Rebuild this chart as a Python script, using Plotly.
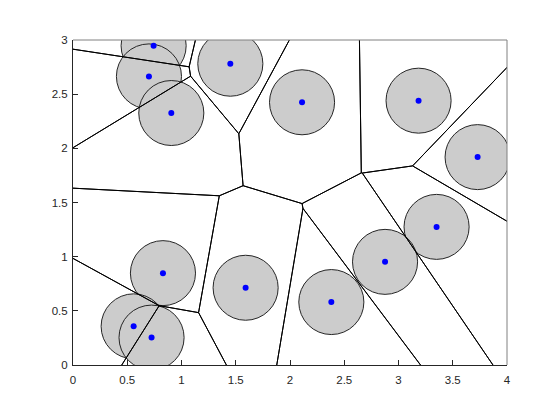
import numpy as np
import plotly.graph_objects as go

# Site coordinates
xs = [0.743, 0.700, 0.906, 1.450, 2.111, 3.185, 3.729, 3.351, 2.876, 2.381, 1.591, 0.829, 0.559, 0.724]
ys = [2.947, 2.664, 2.326, 2.781, 2.425, 2.440, 1.919, 1.275, 0.952, 0.581, 0.713, 0.848, 0.357, 0.253]
radius = 0.3
x_ticks = [0, 0.5, 1, 1.5, 2, 2.5, 3, 3.5, 4]
y_ticks = [0, 0.5, 1, 1.5, 2, 2.5, 3]

pts = np.column_stack([xs, ys])
BIG = 50.0


def clip(poly, a, b):
    # keep region where a.x <= b
    out = []
    n = len(poly)
    for k in range(n):
        p = poly[k]
        q = poly[(k + 1) % n]
        fp = np.dot(a, p) - b
        fq = np.dot(a, q) - b
        if fp <= 0:
            out.append(p)
        if (fp < 0 < fq) or (fq < 0 < fp):
            t = fp / (fp - fq)
            out.append(p + t * (q - p))
    return out


ex, ey = [], []
for i, p in enumerate(pts):
    poly = [np.array(v, float) for v in [(-BIG, -BIG), (BIG, -BIG), (BIG, BIG), (-BIG, BIG)]]
    for j, q in enumerate(pts):
        if i == j:
            continue
        a = q - p
        m = (p + q) / 2
        poly = clip(poly, a, np.dot(a, m))
    n = len(poly)
    for k in range(n):
        u = poly[k]
        v = poly[(k + 1) % n]
        # skip edges on the outer bounding box
        if (abs(u[0]) > BIG - 1e-6 and abs(v[0]) > BIG - 1e-6 and abs(u[0] - v[0]) < 1e-6) or \
           (abs(u[1]) > BIG - 1e-6 and abs(v[1]) > BIG - 1e-6 and abs(u[1] - v[1]) < 1e-6):
            continue
        ex += [u[0], v[0], None]
        ey += [u[1], v[1], None]

fig = go.Figure()
fig.add_trace(go.Scatter(x=ex, y=ey, mode="lines",
                         line=dict(color="black", width=1), hoverinfo="skip",
                         showlegend=False))
fig.add_trace(go.Scatter(x=xs, y=ys, mode="markers",
                         marker=dict(color="#0000ff", size=6), showlegend=False))

for x, y in zip(xs, ys):
    fig.add_shape(type="circle", xref="x", yref="y",
                  x0=x - radius, x1=x + radius, y0=y - radius, y1=y + radius,
                  fillcolor="#cccccc", line=dict(color="#262626", width=1),
                  layer="below")

# top and right box edges
fig.add_shape(type="line", xref="paper", yref="paper", x0=0, x1=1, y0=1, y1=1,
              line=dict(color="#808080", width=1))
fig.add_shape(type="line", xref="paper", yref="paper", x0=1, x1=1, y0=0, y1=1,
              line=dict(color="#808080", width=1))

axis_common = dict(showgrid=False, zeroline=False, showline=True, linecolor="#262626",
                   linewidth=1, ticks="inside", ticklen=5, tickcolor="#262626",
                   tickfont=dict(family="Liberation Sans, Arial", size=11.5, color="#262626"))
fig.update_xaxes(range=[0, 4], tickvals=x_ticks, ticktext=[f"{v:g}" for v in x_ticks],
                 ticklabelstandoff=4, **axis_common)
fig.update_yaxes(range=[0, 3], tickvals=y_ticks, ticktext=[f"{v:g}" for v in y_ticks],
                 ticklabelstandoff=2, **axis_common)

fig.update_layout(width=560, height=420,
                  margin=dict(l=65, r=61, t=32, b=63),
                  plot_bgcolor="white", paper_bgcolor="white",
                  showlegend=False)

fig.write_html("out.html")
